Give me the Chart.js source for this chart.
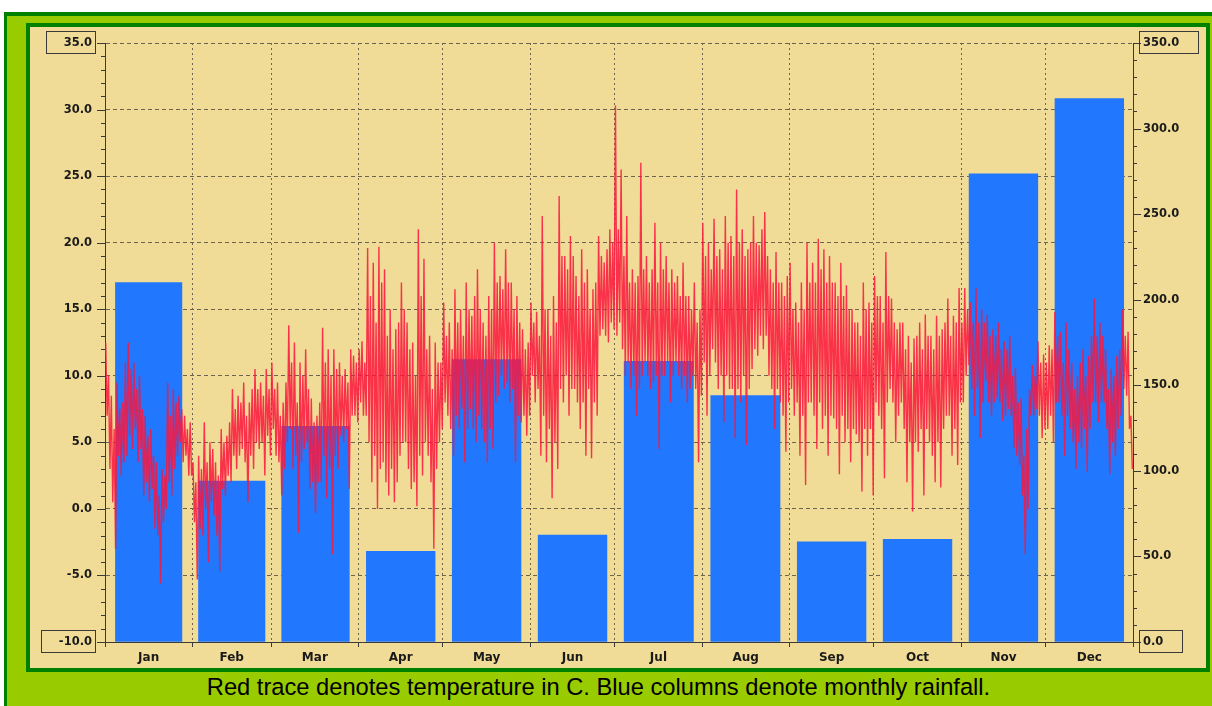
<!DOCTYPE html>
<html>
<head>
<meta charset="utf-8">
<title>Temperature and rainfall</title>
<script src="https://cdn.jsdelivr.net/npm/chart.js@4.4.0/dist/chart.umd.min.js"></script>
<style>
  html, body { margin: 0; padding: 0; background: #fff; }
  body { width: 1212px; height: 706px; overflow: hidden; position: relative; }
  #outer { position: absolute; left: 4px; top: 12px; width: 1300px; height: 800px;
           background: #99cc00; border-top: 4px solid #008000; border-left: 3px solid #008000; }
  #panel { position: absolute; left: 26px; top: 23px; width: 1176px; height: 641px;
           background: #f0dc96; border: 4px solid #008000; }
  #caption { position: absolute; left: 0; top: 675px; width: 1197px; text-align: center;
             font: 23.7px "Liberation Sans", Arial, sans-serif; line-height: 24px; color: #000; }
</style>
</head>
<body>
<div id="outer"></div>
<div id="panel"><canvas id="rainTemp" width="1176" height="641"></canvas></div>
<div id="caption">Red trace denotes temperature in C. Blue columns denote monthly rainfall.</div>

<script>
const monthNames = ['Jan', 'Feb', 'Mar', 'Apr', 'May', 'Jun', 'Jul', 'Aug', 'Sep', 'Oct', 'Nov', 'Dec'];
const monthDays = [31, 28, 31, 30, 31, 30, 31, 31, 30, 31, 30, 31];
const rainfallMm = [210, 94, 126, 53, 165, 62.5, 164, 144, 58.5, 60, 273.5, 317.5];

// temperature, two readings a day (high, low), deg C
const tempJan = [12.5,7, 10,3, 8.5,0.5, 6,-3, 9.5,4, 7.5,2.5, 8,3.5, 11,4, 12.5,5.5, 10.5,4.5, 11,6, 9,3.5, 10,4.5, 7.5,1, 7,2, 5.5,0.5, 6,1.5, 4,-1.5, 3.5,-2, 1,-5.6, 3,-1, 2.5,0, 9.5,2, 7,1, 9,3, 8,4, 8.5,5, 7.5,3.5, 7,4, 6,2.5, 6.5,2.5];
const tempFeb = [3.5,-1, 2,-5.3, 4,-1.5, 3,-2, 6.5,0, 3.5,-4, 5,0.5, 4.5,-0.5, 3.5,-2, 2.5,-4.7, 6,1.5, 5,1, 5.5,2.5, 6.5,2, 9,4, 7.5,3, 8.5,4, 8,4.5, 9.5,3.5, 7,0.5, 8,4, 9,3, 10.5,5, 9,4.5, 9.5,5, 8.5,2.5, 10.5,5.5, 9,4];
const tempMar = [11,6, 9,4, 9.5,3.5, 7,1, 8,3, 9.5,5, 13.8,6, 11,3, 12.5,4, 8,-1.8, 11,3.5, 10,4.5, 12,5, 9,1.5, 8.3,2, 6.5,-0.3, 7,2, 8,2, 13.6,4, 11,0.8, 12,3, 10,-3.4, 12,4, 10.5,3, 11,5.5, 10,5, 10.5,6, 9.5,1.5, 12,7, 11.5,7, 11,6.5];
const tempApr = [12,8, 12.6,7, 11,7, 19.6,5, 16,2, 18.5,4, 14,0, 19.7,3, 17,3.5, 18,2, 13,1, 15,3, 12,0.5, 13.5,2, 14,4, 17,5, 15,5, 14,3, 12,1.5, 12.5,2, 10,0.2, 21,4, 16,2.5, 18.8,5, 12,4, 13,2, 9,-3, 12.5,3, 11,5, 11,6];
const tempMay = [15.5,8, 13,7, 14,6, 12,4, 16.5,7, 14,6, 15,7.5, 13,3.5, 17,6, 15,7.5, 14.5,6, 16,5, 18,7, 15,6, 14,5, 13,3.5, 16,6, 15,4.5, 20,8, 17,8.5, 17.5,10, 16.5,9, 19.5,9.5, 17,8, 17,9, 15,3.5, 16,7, 14,6.5, 13.5,7, 12,5.5, 12.5,7];
const tempJun = [15.5,10, 14,8, 14.8,9, 13,4, 22,7, 15,3.5, 15,6, 13,0.8, 16,5, 14,3, 23.5,9, 19,8, 19,10, 18,7, 20.5,9, 19,9, 17.5,8, 16,6, 19.5,8, 17,4, 18,9, 15,3.8, 16.5,8, 17,7, 20.5,13, 19,13.5, 18.5,13, 19.5,12.5, 21,14, 20,13.5];
const tempJul = [30.3,13, 21,14, 25.5,12, 19,10, 22,11, 17,9, 18,10, 17,7, 17.5,9, 26,10, 18,11, 19,10, 17,9, 18,9.5, 21.5,10, 17,4.5, 20,10, 18,10, 19,11, 17,8, 18,10, 17,11, 17.5,10, 16,9, 18.5,10, 16,8, 16,9, 15,10, 17,9, 14,3.5, 15,8.5];
const tempAug = [21.5,11, 19,7, 20,10, 18,12, 21.8,11, 19,9, 19.5,10, 18,6.5, 22,10, 20,9, 20.5,9, 19,5.3, 24,9, 20,8, 21,10, 19,4.8, 19.5,9, 20,10.5, 22,12, 20,11.5, 19.8,13, 21,12, 22.3,13, 19,10, 18,9, 17,6, 19.3,9, 17,8, 17,7, 16,4.3, 17.5,8];
const tempSep = [18.5,9, 15,7, 15.5,8, 14,4, 17,7, 15,1.8, 20,8, 17,8, 18.5,7, 17,4.5, 20.3,8, 18,6, 19.5,7, 17,4, 19,7, 17,6.8, 17,6, 16,2.6, 18.5,7, 16,5, 16.8,6, 15,3.5, 15,6, 14,5.6, 14,5, 13,1.3, 17,6, 15,4, 15.5,6, 14,1];
const tempOct = [17.5,8, 16,7, 16,6, 14,2.3, 19.3,8, 16,9, 15.8,8, 14,5, 13.5,7, 14,8, 14,6, 12,2, 13,5, 11,-0.2, 12.8,5, 13,4.3, 14,6, 12,1, 14.6,6, 13,5, 13,4, 12,2, 14.5,5, 13,1.6, 13.5,6, 14,7, 15.8,7, 13,4, 14.5,6, 14,3.3, 16.6,8];
const tempNov = [14,8, 16.6,10, 15,10.8, 15.5,9, 14,7, 16.6,9, 14,5.3, 15,8, 14,9.6, 14.6,8, 13,7, 13.5,8, 13,8.3, 14,8, 12,6.6, 12.6,7, 12,7.5, 13,7, 10,4.6, 10.6,4, 8,3.3, 8.3,1, 4,-3.4, 6,0, 9,7, 10.8,7, 10,7.5, 12.6,7, 11,5.3, 11.6,6];
const tempDec = [11,6, 12.3,7, 12,5, 14.8,8, 13,8, 13.3,7, 11,4, 14,7, 12,6, 11,5, 9,3, 10,5, 11,4.6, 12,6, 10,2.8, 11.5,6, 13,8, 15.8,8, 13,6.5, 14,8, 13,8, 12,6, 9,2.6, 10.5,5, 10,4, 11.5,6, 12,7, 15,9, 13,8.5, 13.3,6, 7,3];

const tempReadings = [].concat(tempJan, tempFeb, tempMar, tempApr, tempMay, tempJun,
                               tempJul, tempAug, tempSep, tempOct, tempNov, tempDec);

const monthStarts = [0];
monthDays.forEach(d => monthStarts.push(monthStarts[monthStarts.length - 1] + d));
const monthMid = monthDays.map((d, i) => monthStarts[i] + d / 2);

const labelFont = {family: 'DejaVu Sans', size: 11.5, weight: 'bold'};
const gridCol = '#6e6450';
const axisCol = '#3a3a3a';

// minor/major tick marks on both value axes, boxes round the end labels
const axisMarks = {
    id: 'axisMarks',
    afterDraw(chart) {
        const ctx = chart.ctx;
        const y = chart.scales.y;
        const y2 = chart.scales.y2;
        ctx.save();
        ctx.strokeStyle = axisCol;
        ctx.lineWidth = 1;
        ctx.beginPath();
        for (let v = y.min; v <= y.max; v += 1) {
            const py = Math.round(y.getPixelForValue(v)) + 0.5;
            const len = v % 5 === 0 ? 8 : 4;
            ctx.moveTo(y.right, py);
            ctx.lineTo(y.right - len, py);
        }
        for (let v = y2.min; v <= y2.max; v += 10) {
            const py = Math.round(y2.getPixelForValue(v)) + 0.5;
            const len = v % 50 === 0 ? 8 : 4;
            ctx.moveTo(y2.left, py);
            ctx.lineTo(y2.left + len, py);
        }
        ctx.stroke();

        ctx.font = 'bold 11.5px "DejaVu Sans"';
        [y.min, y.max].forEach(v => {
            const w = ctx.measureText(v.toFixed(1)).width;
            const py = Math.round(y.getPixelForValue(v));
            const x2 = Math.round(y.right) - 9.5;
            const x1 = Math.round(y.right - 13 - w - 18) + 0.5;
            ctx.strokeRect(x1, py - 11.5, x2 - x1, 22);
        });
        [y2.min, y2.max].forEach(v => {
            const w = ctx.measureText(v.toFixed(1)).width;
            const py = Math.round(y2.getPixelForValue(v));
            const x1 = Math.round(y2.left) + 6.5;
            const x2 = Math.round(y2.left + 10 + w + 19) + 0.5;
            ctx.strokeRect(x1, py - 11.5, x2 - x1, 22);
        });
        ctx.restore();
    }
};

new Chart(document.getElementById('rainTemp'), {
    type: 'line',
    data: {
        datasets: [{
            type: 'line',
            label: 'Temperature (C)',
            data: tempReadings.map((t, i) => ({x: (i + 0.5) / 2, y: t})),
            xAxisID: 'x',
            yAxisID: 'y',
            borderColor: 'rgba(250,22,62,0.86)',
            borderWidth: 1.4,
            pointRadius: 0,
            tension: 0,
            order: 0
        }, {
            type: 'bar',
            label: 'Rainfall',
            data: rainfallMm.map((r, i) => ({x: monthMid[i], y: r})),
            xAxisID: 'x',
            yAxisID: 'y2',
            backgroundColor: '#2277ff',
            barThickness: 'flex',
            barPercentage: 0.8,
            categoryPercentage: 1,
            order: 1
        }]
    },
    options: {
        responsive: false,
        animation: false,
        layout: {padding: {top: 16, left: 0, right: 0, bottom: 0}},
        plugins: {legend: {display: false}, tooltip: {enabled: false}},
        events: [],
        scales: {
            x: {
                type: 'linear', position: 'bottom', min: 0, max: 365, weight: 0, offset: false,
                afterBuildTicks: s => { s.ticks = monthStarts.map(v => ({value: v})); },
                afterFit: s => { s.height = 5; },
                ticks: {display: false},
                grid: {offset: false, color: gridCol, tickColor: axisCol, tickLength: 5, drawTicks: true},
                border: {display: true, color: axisCol, width: 1, dash: [2, 3]}
            },
            xl: {
                type: 'linear', position: 'bottom', min: 0, max: 365, weight: 1, offset: false,
                afterBuildTicks: s => { s.ticks = monthMid.map(v => ({value: v})); },
                afterFit: s => { s.height = 21; },
                ticks: {
                    callback: (v, i) => monthNames[i],
                    autoSkip: false, maxRotation: 0, padding: 4, color: '#1a1a1a',
                    font: {family: 'DejaVu Sans', size: 12, weight: 'bold'}
                },
                grid: {display: false, drawTicks: false, offset: false},
                border: {display: false}
            },
            y: {
                position: 'left', min: -10, max: 35,
                afterFit: s => { s.width = 75; s.paddingTop = 6; s.paddingBottom = 6; },
                ticks: {stepSize: 5, padding: 13, color: '#1a1a1a', font: labelFont,
                        callback: v => v.toFixed(1)},
                grid: {color: gridCol, drawTicks: false},
                border: {color: axisCol, width: 1, dash: [4, 3]}
            },
            y2: {
                position: 'right', min: 0, max: 350,
                afterFit: s => { s.width = 73; s.paddingTop = 6; s.paddingBottom = 6; },
                ticks: {stepSize: 50, padding: 10, color: '#1a1a1a', font: labelFont,
                        callback: v => v.toFixed(1)},
                grid: {drawOnChartArea: false, drawTicks: false},
                border: {color: axisCol, width: 1}
            }
        }
    },
    plugins: [axisMarks]
});
</script>
</body>
</html>
